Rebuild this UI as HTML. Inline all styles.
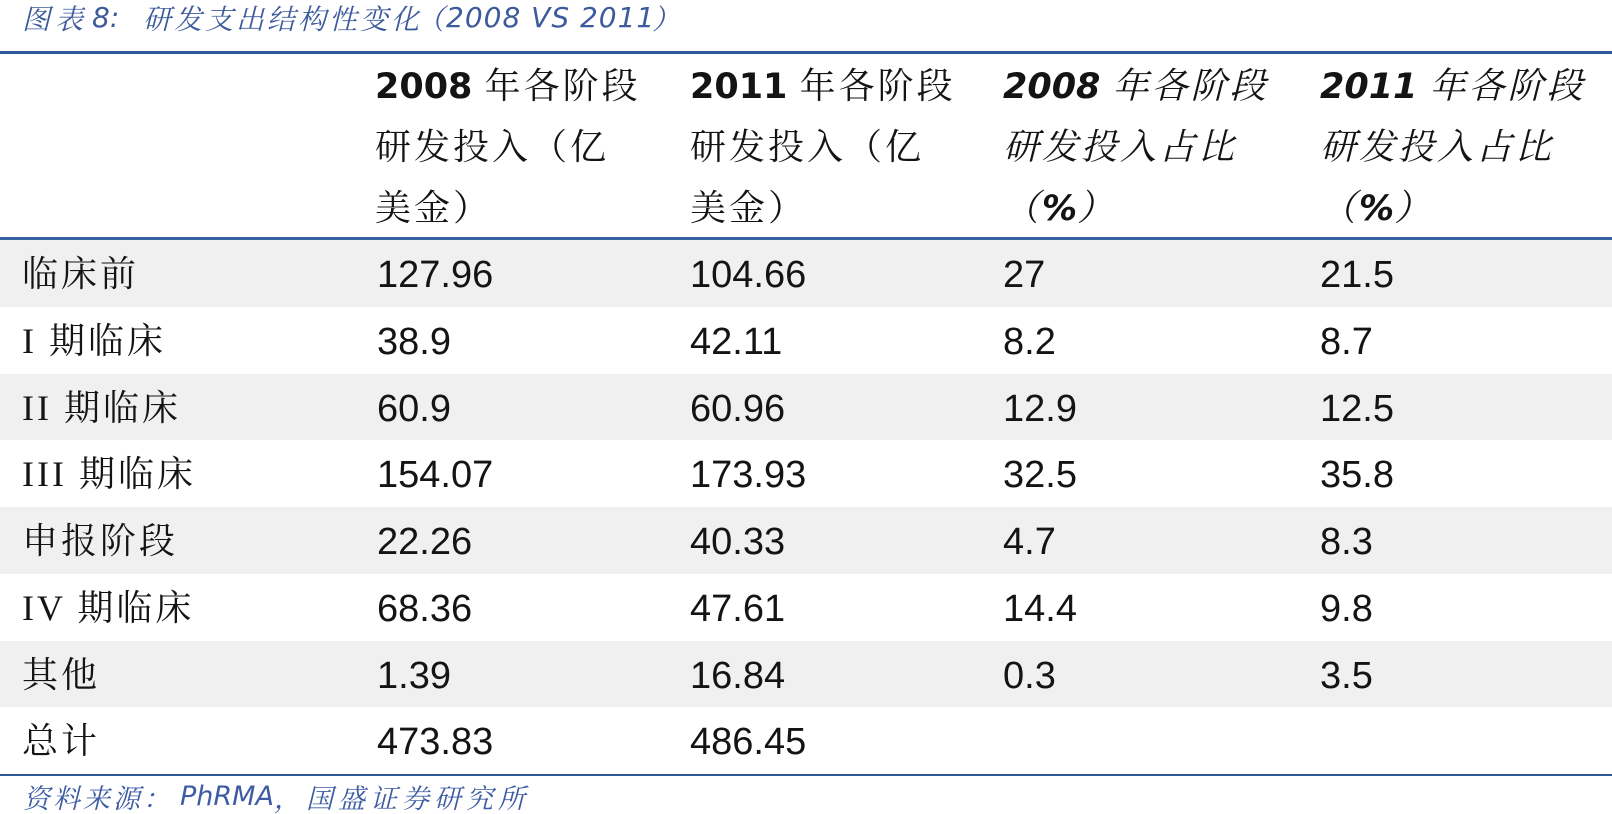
<!DOCTYPE html>
<html><head><meta charset="utf-8">
<style>
*{margin:0;padding:0;box-sizing:border-box}
html,body{width:1612px;height:814px;background:#fff;overflow:hidden}
body{position:relative;font-family:"Liberation Sans","Noto Serif CJK SC",sans-serif;color:#141414}
.a{position:absolute;white-space:nowrap}
.t{top:0;height:36px;line-height:36px;font-size:28px;font-style:italic;color:#3d5b9c;font-family:"DejaVu Sans","Noto Serif CJK SC",sans-serif}
.tc{font-family:"Noto Serif CJK SC",serif}
.ln{position:absolute;left:0;width:1612px;background:#2e5a97}
.row{position:absolute;left:0;width:1612px;height:66.75px}
.g{background:#f0f0f0}
.c{position:absolute;white-space:nowrap;font-size:38px;line-height:66.75px;top:2px;font-family:"Liberation Sans",sans-serif}
.lab{position:absolute;white-space:nowrap;left:22px;top:1px;line-height:66.75px;font-size:36px;letter-spacing:3px;font-family:"Liberation Serif","Noto Serif CJK SC",serif}
.h{position:absolute;white-space:nowrap;height:61px;line-height:61px;font-size:36px;letter-spacing:3px;font-family:"Liberation Serif","Noto Serif CJK SC",serif}
.h b{font-family:"DejaVu Sans",sans-serif;font-weight:bold;font-size:35px;letter-spacing:0}
.i{font-style:italic}
.s{top:779px;height:36px;line-height:36px;font-size:27px;font-style:italic;color:#3d5ca3;font-family:"DejaVu Sans","Noto Serif CJK SC",sans-serif}
</style></head><body>

<div class="a t" style="left:22px"><span class="tc" style="letter-spacing:5px">图表</span></div>
<div class="a t" style="left:92px">8:</div>
<div class="a t" style="left:143px"><span class="tc" style="letter-spacing:3px">研发支出结构性变化</span></div>
<div class="a t" style="left:416px"><span class="tc">（</span></div>
<div class="a t" style="left:446px;letter-spacing:1px">2008 VS 2011</div>
<div class="a t" style="left:652px"><span class="tc">）</span></div>

<div class="ln" style="top:51px;height:3px"></div>

<!-- header col2 -->
<div class="h" style="left:375px;top:55.5px"><b>2008 </b>年各阶段</div>
<div class="h" style="left:375px;top:116.5px">研发投入（亿</div>
<div class="h" style="left:375px;top:177.5px">美金）</div>
<!-- header col3 -->
<div class="h" style="left:690px;top:55.5px"><b>2011 </b>年各阶段</div>
<div class="h" style="left:690px;top:116.5px">研发投入（亿</div>
<div class="h" style="left:690px;top:177.5px">美金）</div>
<!-- header col4 -->
<div class="h i" style="left:1003px;top:55.5px"><b>2008 </b>年各阶段</div>
<div class="h i" style="left:1003px;top:116.5px">研发投入占比</div>
<div class="h i" style="left:1003px;top:177.5px">（<b>%</b>）</div>
<!-- header col5 -->
<div class="h i" style="left:1320px;top:55.5px"><b>2011 </b>年各阶段</div>
<div class="h i" style="left:1320px;top:116.5px">研发投入占比</div>
<div class="h i" style="left:1320px;top:177.5px">（<b>%</b>）</div>

<div class="ln" style="top:237px;height:3px;background:#37619c"></div>

<div class="row g" style="top:240px">
<div class="lab">临床前</div>
<div class="c" style="left:377px">127.96</div><div class="c" style="left:690px">104.66</div><div class="c" style="left:1003px">27</div><div class="c" style="left:1320px">21.5</div>
</div>
<div class="row" style="top:306.75px">
<div class="lab">I 期临床</div>
<div class="c" style="left:377px">38.9</div><div class="c" style="left:690px">42.11</div><div class="c" style="left:1003px">8.2</div><div class="c" style="left:1320px">8.7</div>
</div>
<div class="row g" style="top:373.5px">
<div class="lab">II 期临床</div>
<div class="c" style="left:377px">60.9</div><div class="c" style="left:690px">60.96</div><div class="c" style="left:1003px">12.9</div><div class="c" style="left:1320px">12.5</div>
</div>
<div class="row" style="top:440.25px">
<div class="lab">III 期临床</div>
<div class="c" style="left:377px">154.07</div><div class="c" style="left:690px">173.93</div><div class="c" style="left:1003px">32.5</div><div class="c" style="left:1320px">35.8</div>
</div>
<div class="row g" style="top:507px">
<div class="lab">申报阶段</div>
<div class="c" style="left:377px">22.26</div><div class="c" style="left:690px">40.33</div><div class="c" style="left:1003px">4.7</div><div class="c" style="left:1320px">8.3</div>
</div>
<div class="row" style="top:573.75px">
<div class="lab">IV 期临床</div>
<div class="c" style="left:377px">68.36</div><div class="c" style="left:690px">47.61</div><div class="c" style="left:1003px">14.4</div><div class="c" style="left:1320px">9.8</div>
</div>
<div class="row g" style="top:640.5px">
<div class="lab">其他</div>
<div class="c" style="left:377px">1.39</div><div class="c" style="left:690px">16.84</div><div class="c" style="left:1003px">0.3</div><div class="c" style="left:1320px">3.5</div>
</div>
<div class="row" style="top:707.25px">
<div class="lab">总计</div>
<div class="c" style="left:377px">473.83</div><div class="c" style="left:690px">486.45</div>
</div>

<div class="ln" style="top:774px;height:2px"></div>

<div class="a s" style="left:23px"><span class="tc" style="letter-spacing:3px">资料来源：</span></div>
<div class="a s" style="left:180px">PhRMA</div>
<div class="a s" style="left:274px"><span class="tc">，</span></div>
<div class="a s" style="left:306px"><span class="tc" style="letter-spacing:5px">国盛证券研究所</span></div>

</body></html>
